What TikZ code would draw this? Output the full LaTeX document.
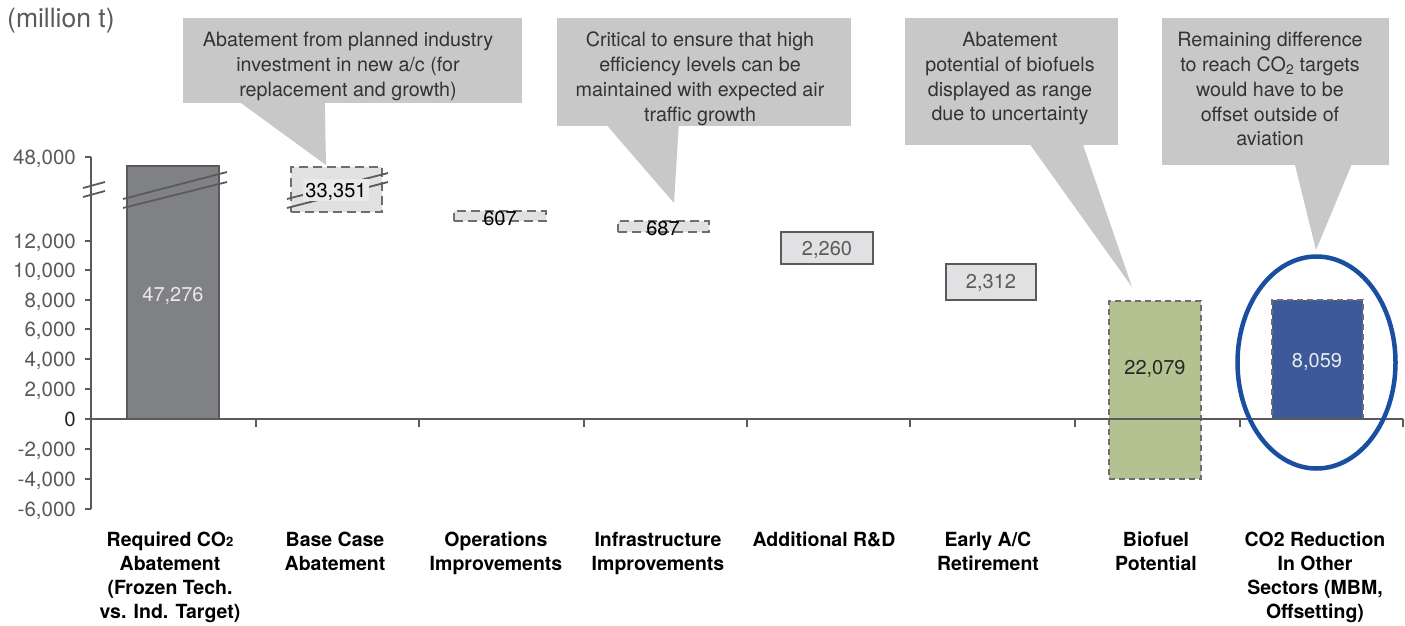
\documentclass[tikz,border=0pt]{standalone}
\usepackage{fontspec}
\setmainfont{TeX Gyre Heros}
\usetikzlibrary{shapes.geometric}
\definecolor{calloutc}{HTML}{C8C8C8}
\definecolor{ctext}{HTML}{333333}
\definecolor{axisc}{HTML}{5A5A5A}
\definecolor{lblc}{HTML}{5A5A5A}
\definecolor{darkbar}{HTML}{808185}
\definecolor{lightbar}{HTML}{E1E1E3}
\definecolor{lightlbl}{HTML}{E9E9EA}
\definecolor{greenbar}{HTML}{B4C292}
\definecolor{bluebar}{HTML}{3C5A9A}
\definecolor{ringc}{HTML}{1A4EA0}
\definecolor{dashc}{HTML}{6E6E6E}
\begin{document}
\begin{tikzpicture}[x=1pt,y=-1pt,
  cbox/.style={fill=calloutc, draw=none, inner sep=0pt, minimum width=#1},
  ctxt/.style={anchor=north, align=center, inner sep=0pt, text=ctext, font=\fontsize{19.7}{24.8}\selectfont},
  ylab/.style={anchor=east, inner sep=0pt, text=lblc, text height=14pt, text depth=0pt, font=\fontsize{20.5}{24}\selectfont},
  vlab/.style={inner sep=0pt, text height=14pt, text depth=0pt, font=\fontsize{20}{24}\selectfont},
  catlab/.style={anchor=north, align=center, inner sep=0pt, font=\bfseries\fontsize{19.5}{24}\selectfont},
  barbox/.style={inner sep=0pt, minimum width=92pt},
  dashbox/.style={draw=dashc, line width=2pt, dash pattern=on 9pt off 5pt},
  fine dash/.style={draw=dashc, line width=1.8pt, dash pattern=on 6pt off 4pt},
  brk/.style={draw=axisc, line width=1.8pt},
  tickln/.style={draw=axisc, line width=1.3pt}]
\useasboundingbox (0,0) rectangle (1405,626);
\fill[white] (0,0) rectangle (1405,626);

% unit label
\node[anchor=west, inner sep=0pt, text=lblc, font=\fontsize{26.5}{30}\selectfont] (unit) at (7,21) {(million t)};

% ---------- callouts ----------
\node[cbox=339pt, minimum height=85pt] (c1) at (352.5,60.5) {};
\coordinate (p1) at (326,165);
\fill[calloutc] ([xshift=57pt,yshift=1pt]c1.south west) -- ([xshift=142pt,yshift=1pt]c1.south west) -- (p1) -- cycle;
\node[ctxt] (t1) at (348,32) {Abatement from planned industry\\investment in new a/c (for\\replacement and growth)};

\node[cbox=294pt, minimum height=108pt] (c2) at (704,72) {};
\coordinate (p2) at (674,203);
\fill[calloutc] ([xshift=50pt,yshift=1pt]c2.south west) -- ([xshift=122pt,yshift=1pt]c2.south west) -- (p2) -- cycle;
\node[ctxt] (t2) at (700,32) {Critical to ensure that high\\efficiency levels can be\\maintained with expected air\\traffic growth};

\node[cbox=213pt, minimum height=127pt] (c3) at (1011.5,81.5) {};
\coordinate (p3) at (1132,287);
\fill[calloutc] ([xshift=125pt,yshift=1pt]c3.south west) -- ([xshift=178pt,yshift=1pt]c3.south west) -- (p3) -- cycle;
\node[ctxt] (t3) at (1010,32) {Abatement\\potential of biofuels\\displayed as range\\due to uncertainty};

\node[cbox=227pt, minimum height=147pt] (c4) at (1275.5,91.5) {};
\coordinate (p4) at (1316,250);
\fill[calloutc] ([xshift=133pt,yshift=1pt]c4.south west) -- ([xshift=190pt,yshift=1pt]c4.south west) -- (p4) -- cycle;
\node[ctxt] (t4) at (1270,32) {Remaining difference\\to reach CO\textsubscript{2} targets\\would have to be\\offset outside of\\aviation};

% ---------- bars ----------
\node[barbox, minimum height=253pt, fill=darkbar, draw=axisc, line width=1.2pt] (b1) at (173,292.5) {};
\draw[brk] (123,199) -- (227,172);
\draw[brk] (123,208) -- (227,182);
\node[vlab, text=lightlbl] (v1) at (173,294) {47,276};

\node[barbox, minimum width=91pt, minimum height=45pt, fill=lightbar, dashbox] (b2) at (336.5,189) {};
\draw[brk] (287,199) -- (388,173);
\draw[brk] (287,208) -- (388,182);
\node[vlab, fill=lightlbl, inner xsep=2pt, inner ysep=4pt] (v2) at (336,190) {33,351};

\node[barbox, minimum width=92pt, minimum height=10pt, fill=lightbar, dashbox] (b3) at (499.5,216) {};
\node[vlab] (v3) at (500,218) {607};

\node[barbox, minimum width=91pt, minimum height=11pt, fill=lightbar, dashbox] (b4) at (663.5,226.5) {};
\node[vlab] (v4) at (663,228) {687};

\node[barbox, minimum width=92pt, minimum height=32pt, fill=lightbar, draw=axisc, line width=1.3pt] (b5) at (827,248) {};
\node[vlab, text=lblc] (v5) at (827,248) {2,260};

\node[barbox, minimum width=90pt, minimum height=36pt, fill=lightbar, draw=axisc, line width=1.3pt] (b6) at (991,282) {};
\node[vlab, text=lblc] (v6) at (991,281) {2,312};

\node[barbox, minimum width=92pt, minimum height=178pt, fill=greenbar, fine dash] (b7) at (1155,390) {};
\node[vlab, text=black!85] (v7) at (1155,367) {22,079};

\node[barbox, minimum width=91pt, minimum height=119pt, fill=bluebar, fine dash] (b8) at (1317.5,359.5) {};
\node[vlab, text=white!92!black] (v8) at (1317,360) {8,059};

% ---------- axes ----------
\coordinate (ytop) at (91,157);
\coordinate (ybot) at (91,509);
\coordinate (x0) at (91,419);
\coordinate (xend) at (1403,419);
\draw[tickln] (ytop) -- (ybot);
\draw[draw=axisc, line width=2pt] (x0) -- (xend);
\foreach \y/\t in {157/{48,000},241/{12,000},270/{10,000},300/{8,000},329/{6,000},359/{4,000},389/{2,000},449/{-2,000},479/{-4,000},509/{-6,000}}{
  \draw[tickln] (85,\y) -- (91,\y);
  \node[ylab] at (76,\y) {\t};
}
\draw[tickln] (85,419) -- (91,419);
\node[ylab, text=black!85] (y0) at (76,419) {0};
\draw[brk] (83,188) -- (105,182);
\draw[brk] (83,197) -- (105,191);
\foreach \x in {256,419,584,747,910,1075,1240,1403}{
  \draw[tickln] (\x,419) -- (\x,427);
}

% ---------- category labels ----------
\node[catlab] (l1) at (170,532) {Required CO{\fontsize{13}{13}\selectfont 2}\\Abatement\\(Frozen Tech.\\vs. Ind. Target)};
\node[catlab] (l2) at (335,532) {Base Case\\Abatement};
\node[catlab] (l3) at (496,532) {Operations\\Improvements};
\node[catlab] (l4) at (658,532) {Infrastructure\\Improvements};
\node[catlab] (l5) at (824,532) {Additional R\&D};
\node[catlab] (l6) at (988,532) {Early A/C\\Retirement};
\node[catlab] (l7) at (1156,532) {Biofuel\\Potential};
\node[catlab] (l8) at (1315,532) {CO2 Reduction\\In Other\\Sectors (MBM,\\Offsetting)};

% ---------- highlight ring ----------
\node[ellipse, draw=ringc, line width=4.5pt, minimum width=158pt, minimum height=212pt, inner sep=0pt] (ring) at (1316.5,362.5) {};
\end{tikzpicture}
\end{document}
